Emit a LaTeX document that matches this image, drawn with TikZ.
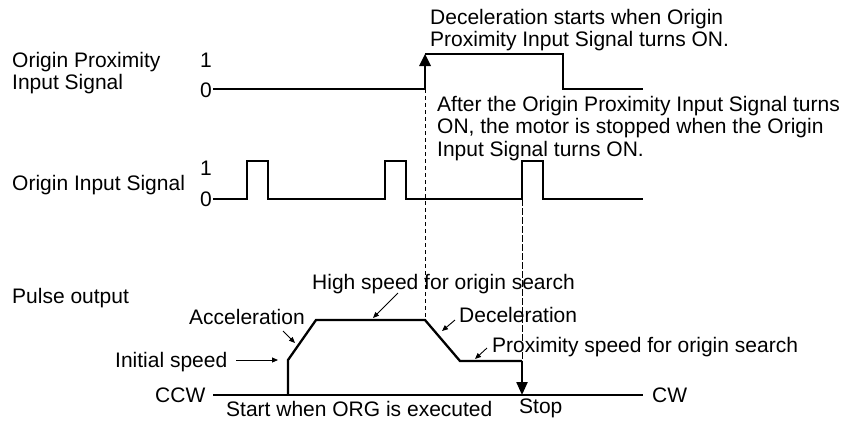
\documentclass[tikz,border=0pt]{standalone}
\usepackage{fontspec}
\setmainfont{Liberation Sans}
\usetikzlibrary{arrows.meta}
\begin{document}
\begin{tikzpicture}[x=1pt,y=-1pt,
  sig/.style={line width=2.3pt,line join=miter},
  base/.style={line width=1.1pt},
  guide/.style={line width=0.9pt,dash pattern=on 4pt off 3pt},
  guidelong/.style={line width=0.9pt,dash pattern=on 7pt off 2pt},
  lbl/.style={anchor=base west,inner sep=0pt,font=\fontsize{21}{22.5}\selectfont},
  lblm/.style={lbl,align=left,anchor=north west},
  pointer/.style={line width=0.9pt,-{Triangle[length=6pt,width=5pt]}},
  bigtip/.style={line width=2.3pt,-{Triangle[length=13pt,width=11pt]}}]
\useasboundingbox[fill=white] (0,0) rectangle (849,421);

% left labels
\node[lblm] (lp) at (12,52) {Origin Proximity\\Input Signal};
\node[lbl] (li) at (12,190) {Origin Input Signal};
\node[lbl] (lo) at (12,303) {Pulse output};
\node[lbl] (p1) at (200,67) {1};
\node[lbl] (p0) at (200,97) {0};
\node[lbl] (i1) at (200,175) {1};
\node[lbl] (i0) at (200,206) {0};

% origin proximity signal
\coordinate (a0) at (213,89);
\coordinate (a1) at (425,89);
\coordinate (a2) at (425,54);
\coordinate (a3) at (563,54);
\coordinate (a4) at (563,89);
\coordinate (a5) at (643,89);
\draw[sig] (a0) -- (a1) -- (425,64);
\draw[sig] (a2) -- (a3) -- (a4) -- (a5);
\fill (419,66) -- (431,66) -- (a2) -- cycle;

% origin input signal
\coordinate (b0) at (213,199);
\coordinate (b5) at (522,199);
\draw[sig] (b0) -- (247,199) -- (247,161) -- (268,161) -- (268,199)
  -- (385,199) -- (385,161) -- (406,161) -- (406,199)
  -- (b5) -- (522,161) -- (543,161) -- (543,199) -- (643,199);

% pulse output
\coordinate (c0) at (213,395);
\coordinate (c9) at (643,395);
\coordinate (s0) at (288,395);
\coordinate (s1) at (288,360);
\coordinate (s2) at (316,320);
\coordinate (s3) at (425,320);
\coordinate (s4) at (460,361);
\coordinate (s5) at (522,361);
\coordinate (s6) at (522,395);
\draw[base] (c0) -- (c9);
\draw[guide] (a1) -- (s3);
\draw[guidelong] (b5) -- (s5);
\draw[sig] (s0) -- (s1) -- (s2) -- (s3) -- (s4) -- (s5);
\draw[bigtip] (s5) -- (s6);

% texts top
\node[lblm] (t1) at (430,9) {Deceleration starts when Origin\\Proximity Input Signal turns ON.};
\node[lblm] (t2) at (437,96) {After the Origin Proximity Input Signal turns\\ON, the motor is stopped when the Origin\\Input Signal turns ON.};

% pulse labels
\node[lbl] (acc) at (189,324) {Acceleration};
\node[lbl] (ini) at (115,367) {Initial speed};
\node[lbl] (ccw) at (155,402) {CCW};
\node[lbl] (st) at (226,416) {Start when ORG is executed};
\node[lbl] (hs) at (312,289) {High speed for origin search};
\node[lbl] (dec) at (459,322) {Deceleration};
\node[lbl] (prx) at (492,352) {Proximity speed for origin search};
\node[lbl] (cw) at (652,402) {CW};
\node[lbl] (stop) at (519,413) {Stop};

% pointers
\draw[pointer] (283,331) -- (295,343);
\draw[pointer] (236,360) -- (278,360);
\draw[pointer] (398,293) -- (373,318);
\draw[pointer] (455,320) -- (442,331);
\draw[pointer] (487,348) -- (475,359);
\end{tikzpicture}
\end{document}
